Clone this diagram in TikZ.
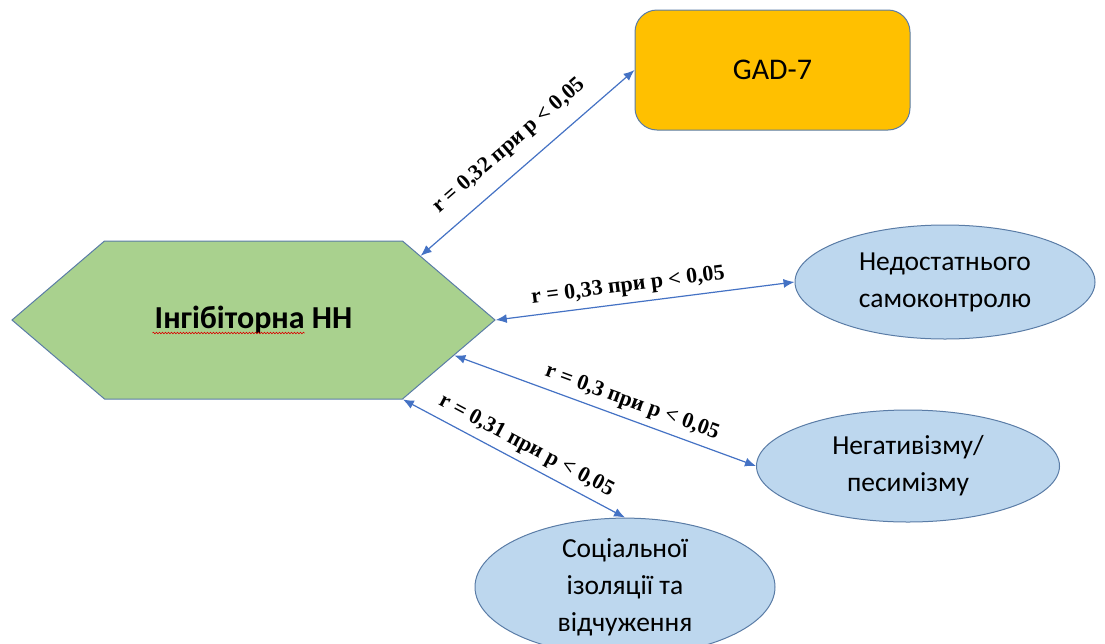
\documentclass[tikz,border=0pt]{standalone}
\usepackage{fontspec}
\setmainfont{Carlito}
\newfontfamily\lblfont{Liberation Serif}
\usetikzlibrary{arrows.meta,shapes.geometric,shapes.symbols,decorations.pathmorphing}
\definecolor{hexgreen}{HTML}{A9D18E}
\definecolor{gadgold}{HTML}{FFC000}
\definecolor{ovalblue}{HTML}{BDD7EE}
\definecolor{edgeblue}{HTML}{5A7CA6}
\definecolor{linkblue}{HTML}{4472C4}

\begin{document}
\begin{tikzpicture}[
  x=1pt,y=-1pt,
  outline/.style={draw=edgeblue,line width=1pt},
  hexbox/.style={outline,fill=hexgreen,signal,signal to=east and west,
    signal pointer angle=81,minimum width=483pt,minimum height=158pt,
    inner sep=0pt,font=\fontsize{32}{38}\selectfont\bfseries},
  gadbox/.style={outline,fill=gadgold,rounded corners=22pt,
    minimum width=275pt,minimum height=120pt,font=\fontsize{30}{36}\selectfont},
  oval/.style={outline,fill=ovalblue,ellipse,minimum width=300pt,
    minimum height=114pt,inner sep=0pt,align=center,
    font=\fontsize{27.5}{37}\selectfont},
  link/.style={draw=linkblue,line width=1.2pt,
    {Latex[length=11pt,width=9pt]}-{Latex[length=11pt,width=9pt]}},
  corr/.style={sloped,above=3pt,font=\lblfont\bfseries\fontsize{22}{22}\selectfont}
]
\useasboundingbox (0,0) rectangle (1105,643);
\clip (0,0) rectangle (1105,643);

\node[hexbox] (inhib) at (253.5,320) {Інгібіторна НН};
\draw[red!85!black,line width=0.6pt,decorate,
  decoration={snake,amplitude=0.8pt,segment length=3pt}]
  ([xshift=-101pt,yshift=-13pt]inhib.center) -- ++(152,0);

\node[gadbox] (gad) at (772.5,70) {GAD-7};
\node[oval] (selfctl) at (945,282) {Недостатнього\\самоконтролю};
\node[oval,minimum width=303pt,minimum height=112pt] (negat) at (908,466)
  {Негативізму/\\песимізму};
\node[oval,minimum height=132pt] (social) at (625,587)
  {Соціальної\\ізоляції та\\відчуження};

\draw[link] (inhib.21) -- node[corr,pos=0.49,above=8pt] {r = 0,32 при p < 0,05} (gad.west);
\draw[link] (inhib.east) -- node[corr,pos=0.45] {r = 0,33 при p < 0,05} (selfctl.west);
\draw[link] (inhib.-10) -- node[corr,pos=0.57] {r = 0,3 при p < 0,05} (negat.west);
\draw[link] (inhib.-28) -- node[corr,pos=0.52] {r = 0,31 при p < 0,05} (social.north);
\end{tikzpicture}
\end{document}
